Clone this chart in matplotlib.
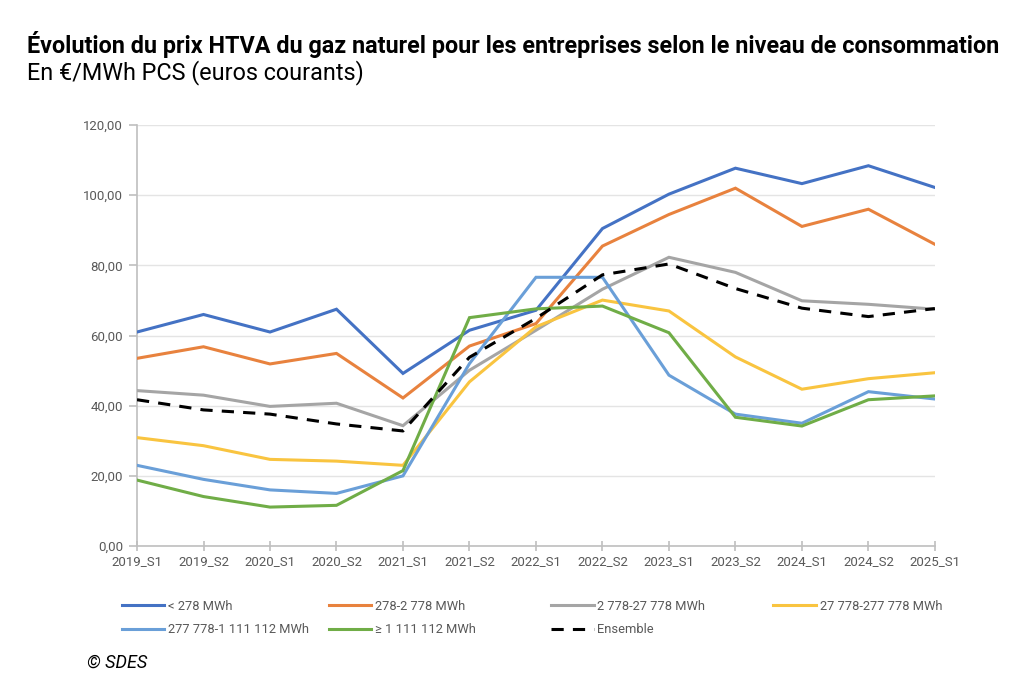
"""
Évolution du prix HTVA du gaz naturel pour les entreprises (SDES).
Line chart, one line per consumption band plus the overall average.
"""

import matplotlib
matplotlib.use("Agg")
import matplotlib.pyplot as plt
from matplotlib.ticker import FuncFormatter, MultipleLocator

plt.rcParams["font.family"] = ["Roboto", "DejaVu Sans"]

periods = ["2019_S1", "2019_S2", "2020_S1", "2020_S2", "2021_S1", "2021_S2", "2022_S1",
           "2022_S2", "2023_S1", "2023_S2", "2024_S1", "2024_S2", "2025_S1"]

lt_278 = [61.0, 66.0, 61.0, 67.5, 49.2, 61.5, 67.2, 90.5, 100.3, 107.7, 103.3, 108.4, 102.2]
b_278_2778 = [53.5, 56.8, 51.9, 54.9, 42.2, 57.0, 63.4, 85.5, 94.5, 102.0, 91.1, 96.0, 86.0]
b_2778_27778 = [44.3, 43.0, 39.8, 40.7, 34.3, 50.1, 61.5, 73.2, 82.3, 78.0, 69.9, 68.9, 67.5]
b_27778_277778 = [30.9, 28.6, 24.7, 24.2, 23.0, 46.8, 62.5, 70.1, 67.0, 53.9, 44.7, 47.7, 49.4]
b_277778_1111112 = [23.0, 19.0, 16.0, 15.0, 20.0, 52.0, 76.6, 76.6, 48.7, 37.6, 35.0, 44.0, 41.9]
ge_1111112 = [18.8, 14.1, 11.1, 11.6, 21.5, 65.1, 67.6, 68.4, 60.8, 36.7, 34.2, 41.7, 42.8]
ensemble = [41.7, 38.8, 37.6, 34.8, 32.8, 53.8, 64.9, 77.3, 80.4, 73.4, 67.8, 65.4, 67.7]

series = [
    ("< 278 MWh", lt_278, "#4472C4", "-"),
    ("278-2 778 MWh", b_278_2778, "#E8823E", "-"),
    ("2 778-27 778 MWh", b_2778_27778, "#A5A5A5", "-"),
    ("27 778-277 778 MWh", b_27778_277778, "#F9C440", "-"),
    ("277 778-1 111 112 MWh", b_277778_1111112, "#6A9FD8", "-"),
    ("≥ 1 111 112 MWh", ge_1111112, "#70AD47", "-"),
    ("Ensemble", ensemble, "black", (0, (4, 3))),
]

fig = plt.figure(figsize=(10.24, 6.87), dpi=100)
ax = fig.add_axes([0.1338, 0.2052, 0.913 - 0.1338, 0.818 - 0.2052])

handles = []
for label, vals, color, ls in series:
    (h,) = ax.plot(range(len(periods)), vals, color=color, lw=2.2, ls=ls, label=label,
                   solid_joinstyle="miter", zorder=3)
    handles.append(h)

ax.set_xlim(0, len(periods) - 1)
ax.set_ylim(0, 120)
ax.yaxis.set_major_locator(MultipleLocator(20))
ax.yaxis.set_major_formatter(FuncFormatter(lambda v, _: f"{v:.2f}".replace(".", ",")))
ax.set_xticks(range(len(periods)))
ax.set_xticklabels(periods)

ax.grid(axis="y", color="#E4E4E4", lw=1)
ax.set_axisbelow(True)
for side in ["top", "right"]:
    ax.spines[side].set_visible(False)
for side in ["left", "bottom"]:
    ax.spines[side].set_color("#BFBFBF")
    ax.spines[side].set_linewidth(1.2)
ax.tick_params(axis="y", colors="#BFBFBF", labelcolor="#595959", labelsize=9.5, length=6, width=1.2, pad=4)
ax.tick_params(axis="x", colors="#BFBFBF", labelcolor="#595959", labelsize=9.5, length=7, width=1.2,
               direction="inout", pad=3)

# legend: 4 evenly spaced columns, filled row by row (one legend per column)
col_x = [0.119, 0.321, 0.538, 0.755]
for c, x in enumerate(col_x):
    idx = [i for i in (c, c + 4) if i < len(series)]
    fig.legend([handles[i] for i in idx], [series[i][0] for i in idx],
               loc="upper left", bbox_to_anchor=(x, 0.127), frameon=False,
               fontsize=9.3, labelcolor="#595959", handlelength=3.3, handletextpad=0.3,
               labelspacing=0.8, borderaxespad=0, borderpad=0)

fig.text(0.026, 0.935, "Évolution du prix HTVA du gaz naturel pour les entreprises selon le niveau de consommation",
         fontsize=16.8, fontweight="bold", ha="left", va="center")
fig.text(0.026, 0.895, "En €/MWh PCS (euros courants)", fontsize=16.8, ha="left", va="center")
fig.text(0.085, 0.035, "© SDES", fontsize=13, fontstyle="italic", ha="left", va="center")

fig.savefig("out.png", dpi=100)
